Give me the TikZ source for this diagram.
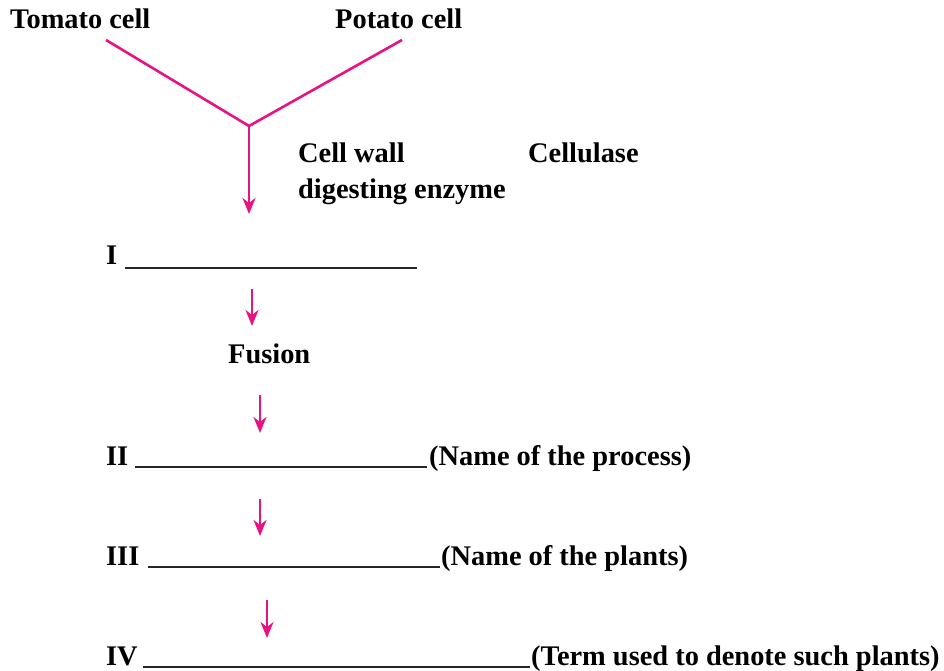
\documentclass[tikz,border=0pt]{standalone}
\usepackage{fontspec}
\setmainfont{Liberation Serif}
\usetikzlibrary{arrows.meta}
\definecolor{fusepink}{RGB}{230,20,130}
\tikzset{
  lbl/.style={anchor=base west,inner sep=0pt,font=\fontsize{28.4}{34}\selectfont\bfseries},
  flow/.style={fusepink,line width=2.6pt},
  flowarr/.style={flow,-{Stealth[length=16pt,width=13pt,inset=5pt]}},
  blank/.style={black!85,line width=2.2pt}
}
\begin{document}
\begin{tikzpicture}[x=1pt,y=-1pt]
\useasboundingbox (0,0) rectangle (944,671);
% parent cells
\node[lbl] (tomato) at (10,29) {Tomato cell};
\node[lbl] (potato) at (335,29) {Potato cell};
\coordinate (tomatoend) at (106,40);
\coordinate (potatoend) at (402,40);
\coordinate (join) at (249,126);
\coordinate (joinend) at (249,214);
\draw[flow] (tomatoend)--(join)--(potatoend);
\draw[flowarr] (join)--(joinend);
% enzyme
\node[lbl] (wall) at (298,163) {Cell wall};
\node[lbl] (digest) at (298,198) {digesting enzyme};
\node[lbl] (cellulase) at (528,163) {Cellulase};
% step I
\node[lbl] (stepI) at (106,264) {I};
\draw[blank] (125,268)--(417,268);
\coordinate (a2top) at (252,289);
\coordinate (a2bot) at (252,326);
\draw[flowarr] (a2top)--(a2bot);
\node[lbl] (fusion) at (228,363) {Fusion};
\coordinate (a3top) at (260,395);
\coordinate (a3bot) at (260,433);
\draw[flowarr] (a3top)--(a3bot);
% step II
\node[lbl] (stepII) at (106,465) {II};
\draw[blank] (135,467)--(427,467);
\node[lbl] (process) at (429,465) {(Name of the process)};
\coordinate (a4top) at (260,499);
\coordinate (a4bot) at (260,536);
\draw[flowarr] (a4top)--(a4bot);
% step III
\node[lbl] (stepIII) at (106,565) {III};
\draw[blank] (148,567)--(440,567);
\node[lbl] (plants) at (441,565) {(Name of the plants)};
\coordinate (a5top) at (267,600);
\coordinate (a5bot) at (267,638);
\draw[flowarr] (a5top)--(a5bot);
% step IV
\node[lbl] (stepIV) at (106,665) {IV};
\draw[blank] ([xshift=5pt]stepIV.base east)++(0,2)--(530,667);
\node[lbl] (term) at (531,665) {(Term used to denote such plants)};
\end{tikzpicture}
\end{document}
